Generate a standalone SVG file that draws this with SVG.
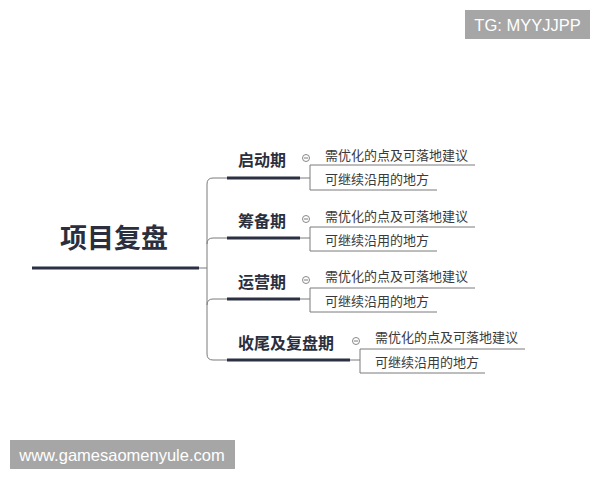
<svg xmlns="http://www.w3.org/2000/svg" width="600" height="480" viewBox="0 0 600 480">
<style>
.cn{font-family:"Noto Sans CJK SC","Liberation Sans",sans-serif}
.t1{font-size:27px;font-weight:bold;fill:#2b2f3d}
.t2{font-size:16px;font-weight:bold;fill:#2b2f3d}
.t3{font-size:13px;fill:#3a3a3a}
.ul{stroke:#2b3142;stroke-width:3;fill:none}
.ln{stroke:#7a7a7a;stroke-width:1;fill:none}
.ci{stroke:#888;stroke-width:1;fill:#fff}
.wm{font-family:"Liberation Sans",Arial,sans-serif;font-size:16.5px;fill:#fff}
</style>
<rect width="600" height="480" fill="#fff"/>
<g id="connectors">
<path class="ln" d="M199,268 H207"/>
<path class="ln" d="M227,178 H213 Q207,178 207,184 V354 Q207,360 213,360 H227"/>
<path class="ln" d="M207,244 Q207,238 213,238 H227"/>
<path class="ln" d="M207,305 Q207,299 213,299 H227"/>
<path class="ln" d="M300,178 H310 M310,165 V190 M310,165 H475 M310,190 H437"/>
<path class="ln" d="M300,238 H310 M310,227 V251 M310,227 H475 M310,251 H437"/>
<path class="ln" d="M300,299 H310 M310,288 V312 M310,288 H475 M310,312 H437"/>
<path class="ln" d="M350,360 H360 M360,349 V373 M360,349 H525 M360,373 H485"/>
</g>
<g id="root">
<text class="cn t1" x="60" y="248">项目复盘</text>
<path class="ul" d="M32,268 H199"/>
</g>
<g id="n1">
<text class="cn t2" x="238" y="166">启动期</text>
<path class="ul" d="M227,178 H300"/>
<circle class="ci" cx="306" cy="158" r="3.5"/><path class="ln" d="M304,158 H308"/>
</g>
<g id="n2">
<text class="cn t2" x="238" y="227">筹备期</text>
<path class="ul" d="M227,238 H300"/>
<circle class="ci" cx="306" cy="219" r="3.5"/><path class="ln" d="M304,219 H308"/>
</g>
<g id="n3">
<text class="cn t2" x="238" y="288">运营期</text>
<path class="ul" d="M227,299 H300"/>
<circle class="ci" cx="306" cy="280" r="3.5"/><path class="ln" d="M304,280 H308"/>
</g>
<g id="n4">
<text class="cn t2" x="238" y="349">收尾及复盘期</text>
<path class="ul" d="M227,360 H350"/>
<circle class="ci" cx="356" cy="341" r="3.5"/><path class="ln" d="M354,341 H358"/>
</g>
<g id="n1a"><text class="cn t3" x="325" y="160">需优化的点及可落地建议</text></g>
<g id="n1b"><text class="cn t3" x="325" y="184">可继续沿用的地方</text></g>
<g id="n2a"><text class="cn t3" x="325" y="221">需优化的点及可落地建议</text></g>
<g id="n2b"><text class="cn t3" x="325" y="245">可继续沿用的地方</text></g>
<g id="n3a"><text class="cn t3" x="325" y="281">需优化的点及可落地建议</text></g>
<g id="n3b"><text class="cn t3" x="325" y="306">可继续沿用的地方</text></g>
<g id="n4a"><text class="cn t3" x="375" y="342">需优化的点及可落地建议</text></g>
<g id="n4b"><text class="cn t3" x="375" y="367">可继续沿用的地方</text></g>
<g id="wm1">
<rect x="465" y="10" width="125" height="29" fill="#a6a6a6"/>
<text class="wm" x="527.5" y="30.5" text-anchor="middle">TG: MYYJJPP</text>
</g>
<g id="wm2">
<rect x="10" y="440" width="225" height="29" fill="#a6a6a6"/>
<text class="wm" x="122" y="460.5" text-anchor="middle">www.gamesaomenyule.com</text>
</g>
</svg>
